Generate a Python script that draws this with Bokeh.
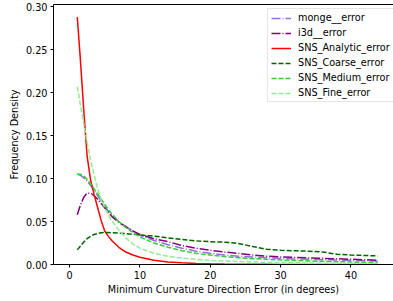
from bokeh.plotting import figure
from bokeh.models import Range1d, FixedTicker, LinearAxis, PrintfTickFormatter
from bokeh.embed import file_html
from bokeh.resources import INLINE

# ---- data ----
x_vals = [1.1, 1.5, 2.0, 2.5, 3.0, 3.5, 4.0, 4.5, 5.0, 5.5, 6.0, 7.0, 8.0, 9.0, 10.0,
          12.0, 14.0, 16.0, 18.0, 20.0, 22.0, 24.0, 26.0, 28.0, 30.0, 32.0, 34.0,
          36.0, 38.0, 40.0, 42.0, 43.8]

monge_error = [0.105, 0.104, 0.101, 0.097, 0.092, 0.086, 0.080, 0.074, 0.068, 0.062, 0.057,
               0.050, 0.044, 0.039, 0.034, 0.028, 0.023, 0.019, 0.0155, 0.013, 0.011, 0.0097,
               0.0087, 0.0078, 0.0071, 0.0065, 0.0060, 0.0056, 0.0052, 0.0048, 0.0044, 0.0041]

i3d_error = [0.058, 0.068, 0.078, 0.083, 0.083, 0.080, 0.076, 0.071, 0.066, 0.061, 0.056,
             0.049, 0.044, 0.039, 0.035, 0.030, 0.0265, 0.022, 0.019, 0.0165, 0.0145, 0.0128,
             0.011, 0.0097, 0.0088, 0.0082, 0.0077, 0.0072, 0.0067, 0.0061, 0.0055, 0.0050]

sns_analytic_error = [0.288, 0.243, 0.182, 0.126, 0.098, 0.081, 0.066, 0.051, 0.039, 0.033, 0.028,
                      0.020, 0.0145, 0.011, 0.0085, 0.005, 0.003, 0.0019, 0.0012, 0.0008, 0.0005,
                      0.0004, 0.0003, 0.0002, 0.0001, 0.0001, 0.0001, 0.0001, 0.0001, 0.0001,
                      0.0001, 0.0001]

sns_coarse_error = [0.017, 0.021, 0.026, 0.030, 0.033, 0.035, 0.036, 0.037, 0.0372, 0.0372, 0.037,
                    0.0365, 0.036, 0.0352, 0.0345, 0.033, 0.031, 0.029, 0.0275, 0.0265, 0.026,
                    0.0245, 0.021, 0.0178, 0.0165, 0.016, 0.0155, 0.0145, 0.012, 0.011, 0.0105,
                    0.010]

sns_medium_error = [0.105, 0.105, 0.103, 0.099, 0.094, 0.088, 0.082, 0.076, 0.070, 0.064, 0.059,
                    0.050, 0.043, 0.037, 0.032, 0.025, 0.020, 0.016, 0.013, 0.011, 0.0092, 0.0079,
                    0.0068, 0.0060, 0.0053, 0.0047, 0.0042, 0.0037, 0.0033, 0.0030, 0.0026, 0.0023]

sns_fine_error = [0.207, 0.188, 0.165, 0.142, 0.121, 0.104, 0.088, 0.076, 0.066, 0.058, 0.051,
                  0.040, 0.031, 0.024, 0.019, 0.013, 0.0095, 0.0075, 0.006, 0.0048, 0.004, 0.0035,
                  0.003, 0.0025, 0.0022, 0.002, 0.0018, 0.0016, 0.0014, 0.0012, 0.0011, 0.001]

x_ticks = [0, 10, 20, 30, 40]
y_ticks = [0.0, 0.05, 0.10, 0.15, 0.20, 0.25, 0.30]

FONT = "DejaVu Sans"
FS = "9.7px"

p = figure(width=393, height=301, output_backend="svg", toolbar_location=None,
           x_range=Range1d(-2.28, 46.05), y_range=Range1d(0, 0.3025),
           min_border_left=53, min_border_right=0, min_border_top=4, min_border_bottom=37,
           x_axis_label="Minimum Curvature Direction Error (in degrees)",
           y_axis_label="Frequency Density")
p.outline_line_color = None
p.grid.visible = False
p.background_fill_color = "white"

series = [
    ("monge__error", monge_error, "#9370DB", "9 2 1 2"),
    ("i3d__error", i3d_error, "#800080", "9 2 1 2"),
    ("SNS_Analytic_error", sns_analytic_error, "#FF0000", "solid"),
    ("SNS_Coarse_error", sns_coarse_error, "#006400", "5 2"),
    ("SNS_Medium_error", sns_medium_error, "#32CD32", "5 2"),
    ("SNS_Fine_error", sns_fine_error, "#90EE90", "5 2"),
]
for name, ys, col, dash in series:
    p.line(x_vals, ys, line_color=col, line_width=1.5, line_dash=dash, legend_label=name)

for ax in (p.xaxis[0], p.yaxis[0]):
    ax.axis_line_color = "black"
    ax.axis_line_width = 1
    ax.major_tick_line_color = "black"
    ax.major_tick_out = 3
    ax.major_tick_in = 0
    ax.minor_tick_line_color = None
    ax.major_label_text_font = FONT
    ax.major_label_text_font_size = FS
    ax.major_label_text_color = "black"
    ax.major_label_standoff = 3
    ax.axis_label_text_font = FONT
    ax.axis_label_text_font_size = FS
    ax.axis_label_text_font_style = "normal"
    ax.axis_label_text_color = "black"
    ax.axis_label_standoff = 3
p.xaxis[0].axis_label_standoff = 2

p.xaxis[0].ticker = FixedTicker(ticks=x_ticks)
p.yaxis[0].ticker = FixedTicker(ticks=y_ticks)
p.yaxis[0].formatter = PrintfTickFormatter(format="%.2f")

top = LinearAxis(ticker=FixedTicker(ticks=[]), major_tick_out=0, major_tick_in=0,
                 minor_tick_out=0, minor_tick_in=0, major_label_text_font_size="0px",
                 axis_line_color="black", axis_line_width=1)
p.add_layout(top, "above")

lg = p.legend[0]
lg.location = (214, 162)
lg.margin = 0
lg.padding = 3
lg.spacing = 4
lg.glyph_width = 20
lg.glyph_height = 10
lg.label_height = 10
lg.label_standoff = 7
lg.label_text_font = FONT
lg.label_text_font_size = FS
lg.label_text_color = "black"
lg.border_line_color = "#cccccc"
lg.border_line_width = 1
lg.background_fill_color = "white"
lg.background_fill_alpha = 0.8

open("out.html", "w").write(file_html(p, INLINE))
